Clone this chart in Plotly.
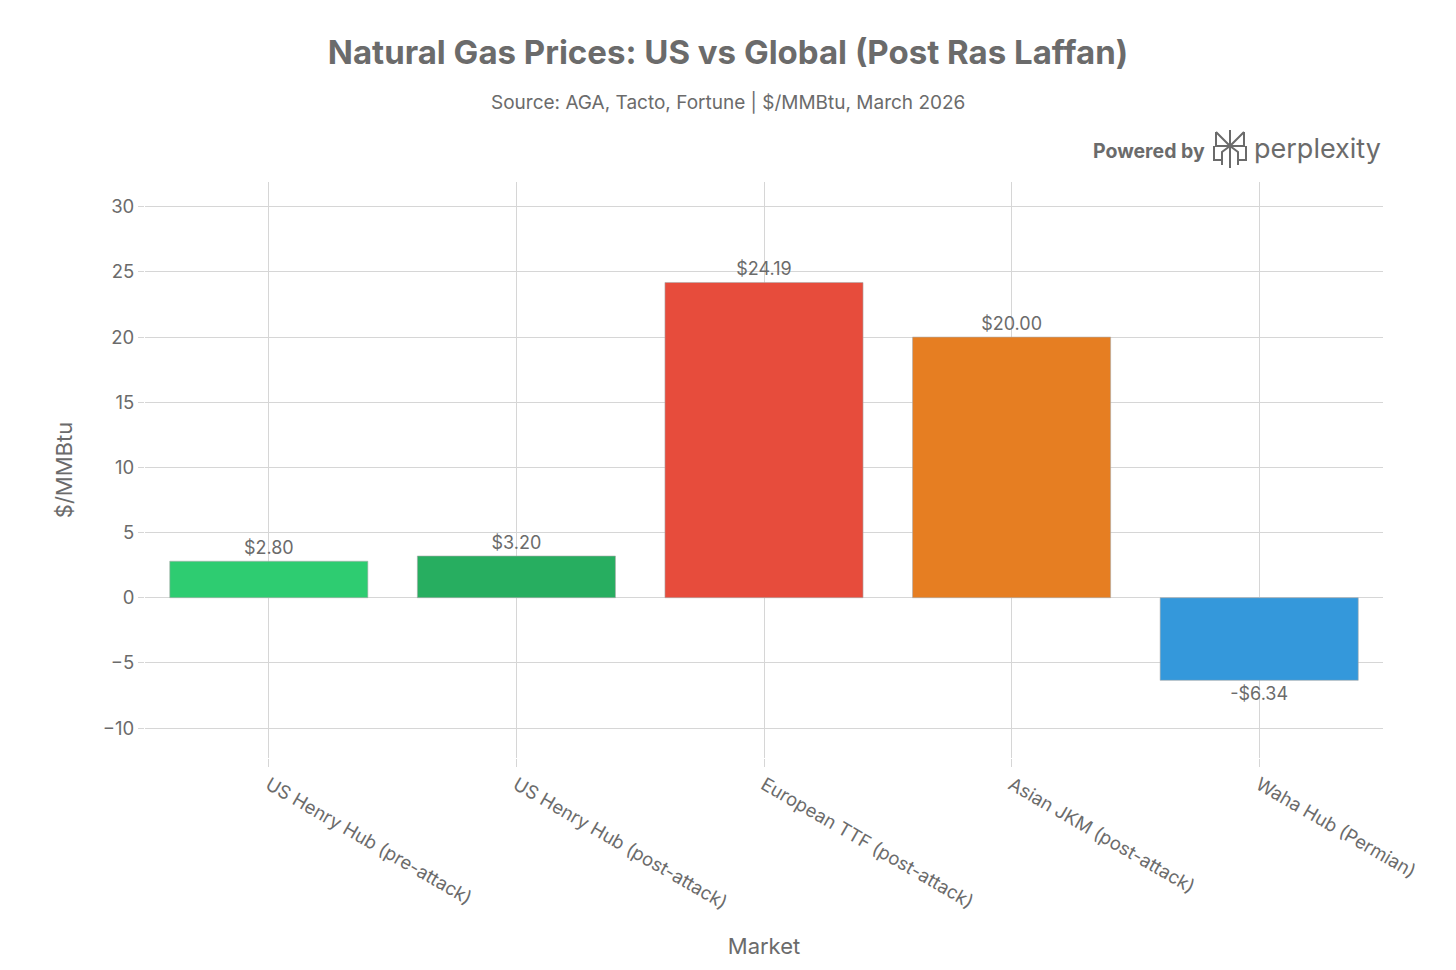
import plotly.graph_objects as go

markets = ["US Henry Hub (pre-attack)", "US Henry Hub (post-attack)", "European TTF (post-attack)",
           "Asian JKM (post-attack)", "Waha Hub (Permian)"]
prices = [2.80, 3.20, 24.19, 20.00, -6.34]
colors = ["#2ECC71", "#27AE60", "#E74C3C", "#E67E22", "#3498DB"]
labels = [("-$%.2f" % abs(v)) if v < 0 else ("$%.2f" % v) for v in prices]
yticks = [-10, -5, 0, 5, 10, 15, 20, 25, 30]

FONT = "Inter, Roboto, sans-serif"
GRAY = "#6b6b6b"

fig = go.Figure(go.Bar(
    x=markets, y=prices, marker=dict(color=colors, line=dict(color="rgba(170,170,170,0.6)", width=1)),
    text=labels, textposition="outside", textfont=dict(size=18, color=GRAY, family=FONT),
    cliponaxis=False,
))

OFF = 8  # page body margin
W, H = 1456, 970
# plot area in page pixels
PL, PR, PT, PB = 145, 1383, 182, 758
pw, ph = PR - PL, PB - PT

def px(x):
    return (x - PL) / pw

def py(y):
    return (PB - y) / ph

fig.update_layout(
    width=W, height=H,
    margin=dict(l=PL - OFF, r=W - (PR - OFF), t=PT - OFF, b=H - (PB - OFF)),
    plot_bgcolor="white", paper_bgcolor="white",
    bargap=0.2,
    showlegend=False,
    font=dict(family=FONT, color=GRAY, size=18),
    title=dict(text="<b>Natural Gas Prices: US vs Global (Post Ras Laffan)</b>", x=px(728), xref="paper",
               xanchor="center", y=1 - (52 - OFF) / H, yanchor="middle",
               font=dict(size=33, color=GRAY, family=FONT)),
    xaxis=dict(title=dict(text="Market", font=dict(size=22, color=GRAY), standoff=26),
               tickangle=30, showgrid=True, gridcolor="#d6d6d6", ticks="outside", ticklen=8,
               tickcolor="#d6d6d6", tickfont=dict(size=18.5, color=GRAY), showline=False),
    yaxis=dict(title=dict(text="$/MMBtu", font=dict(size=22, color=GRAY), standoff=24),
               range=[-12.3, 31.9], tickvals=yticks, ticktext=[("\u2212%d" % abs(v)) if v < 0 else str(v) for v in yticks],
               showgrid=True, gridcolor="#d6d6d6", zeroline=True, zerolinecolor="#d6d6d6", zerolinewidth=1,
               ticks="outside", ticklen=6, tickcolor="#d6d6d6", tickfont=dict(size=18.5, color=GRAY)),
)

fig.add_annotation(text="Source: AGA, Tacto, Fortune | $/MMBtu, March 2026", xref="paper", yref="paper",
                   x=px(728), y=py(102), xanchor="center", yanchor="middle", showarrow=False,
                   font=dict(size=19, color=GRAY, family=FONT))
fig.add_annotation(text="<b>Powered by</b>", xref="paper", yref="paper", x=px(1207), y=py(151),
                   xanchor="right", yanchor="middle", showarrow=False, font=dict(size=19.5, color=GRAY, family=FONT))
fig.add_annotation(text="perplexity", xref="paper", yref="paper", x=px(1252), y=py(148),
                   xanchor="left", yanchor="middle", showarrow=False, font=dict(size=27, color=GRAY, family=FONT))

# perplexity icon (approximate)
def path(points):
    return "M " + " L ".join("%.5f %.5f" % (px(a), py(b)) for a, b in points)

icon = [
    [(1230, 130), (1230, 168)],
    [(1216, 132), (1230, 146), (1244, 132)],
    [(1216, 132), (1216, 146), (1244, 146), (1244, 132)],
    [(1214, 146), (1214, 160), (1222, 160)],
    [(1246, 146), (1246, 160), (1238, 160)],
    [(1222, 165), (1222, 152), (1230, 146), (1238, 152), (1238, 165)],
]
for p in icon:
    fig.add_shape(type="path", xref="paper", yref="paper", path=path(p),
                  line=dict(color=GRAY, width=2))

fig.write_html("out.html")
